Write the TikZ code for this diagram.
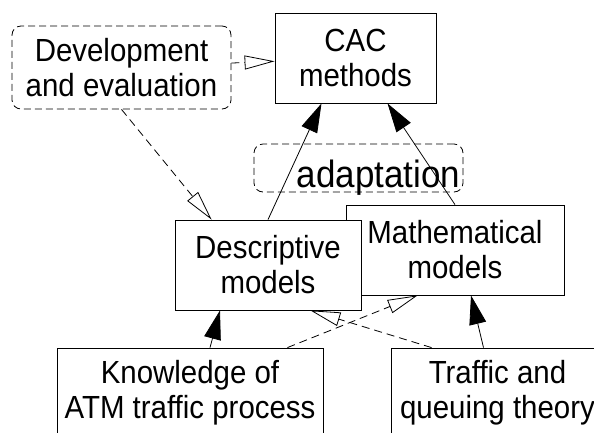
\documentclass[tikz,border=0pt]{standalone}
\usepackage{fontspec}
\setmainfont{Liberation Sans}[FakeStretch=0.92]
\usetikzlibrary{arrows.meta, positioning}
\tikzstyle{box}=[draw, fill=white, line width=0.8pt, align=center, inner sep=0pt, font=\fontsize{32}{35}\selectfont]
\tikzstyle{note}=[box, fill=none, dash pattern=on 7pt off 4pt, rounded corners=9pt]
\tikzstyle{uses}=[line width=0.8pt, -{Triangle[length=29pt,width=17pt]}]
\tikzstyle{feeds}=[line width=0.8pt, dash pattern=on 8pt off 5pt, -{Triangle[open,length=30pt,width=14pt]}]

\begin{document}
\begin{tikzpicture}[x=1pt,y=-1pt]
  \useasboundingbox (0,0) rectangle (594,432);
  \clip (0,0) rectangle (594,432);
  \node[box,minimum width=161pt,minimum height=90pt] (cac) at (355.5,58) {CAC\\methods};
  \node[note,minimum width=219pt,minimum height=83pt] (dev) at (121.5,67.5) {Development\\and evaluation};
  \node[note,minimum width=209pt,minimum height=48pt] (adapt) at (358.5,168) {};
  \node[anchor=base east,inner sep=0pt,font=\fontsize{38}{40}\selectfont] (adapttext) at ([xshift=-3pt,yshift=5pt]adapt.south east) {adaptation};
  \node[box,minimum width=218pt,minimum height=90pt] (math) at (455,250) {Mathematical\\models};
  \node[box,minimum width=186pt,minimum height=90pt] (desc) at (268,265) {Descriptive\\models};
  \node[box,minimum width=266pt,minimum height=90pt] (know) at (190,393) {Knowledge of\\ATM traffic process};
  \node[box,minimum width=213pt,minimum height=90pt] (traf) at (497.5,393) {Traffic and\\queuing theory};
  % dashed links
  \draw[feeds] (dev) -- (cac);
  \draw[feeds] (dev.south) -- ([xshift=37pt]desc.north west);
  \draw[feeds] ([xshift=-36pt]know.north east) -- ([xshift=72pt]math.south west);
  \draw[feeds] ([xshift=41pt]traf.north west) -- ([xshift=-51pt]desc.south east);
  % solid links
  \draw[uses] (desc.north) -- ([xshift=-34pt]cac.south);
  \draw[uses] (math.north) -- ([xshift=32pt]cac.south);
  \draw[uses] ([xshift=20pt]know.north) -- ([xshift=-48pt]desc.south);
  \draw[uses] ([xshift=-14pt]traf.north) -- ([xshift=16pt]math.south);
\end{tikzpicture}
\end{document}
